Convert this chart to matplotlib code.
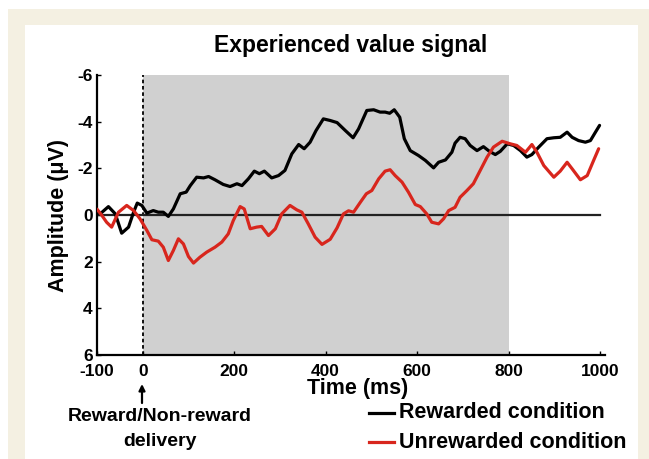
import matplotlib
matplotlib.use("Agg")
import matplotlib.pyplot as plt
from matplotlib.patches import Rectangle
from matplotlib.lines import Line2D

plt.rcParams['font.family'] = ['Liberation Sans', 'DejaVu Sans']
plt.rcParams['font.weight'] = 'bold'
plt.rcParams['axes.unicode_minus'] = False

# ERP traces (time in ms, amplitude in microvolts)
time_rewarded = [-100, -93, -75, -60, -46, -31, -20, -12, -2, 9, 23, 34, 45, 56, 67, 82, 95,
                 104, 118, 133, 144, 158, 176, 191, 206, 217, 231, 244, 255, 266, 282, 297,
                 311, 326, 341, 353, 366, 379, 395, 410, 425, 443, 460, 472, 490, 505, 519,
                 530, 540, 550, 562, 572, 585, 603, 618, 636, 647, 662, 676, 683, 694, 705,
                 716, 731, 745, 758, 771, 782, 797, 811, 826, 840, 851, 866, 884, 899, 913,
                 928, 939, 953, 968, 979, 990, 999]
amp_rewarded = [-0.2, -0.05, -0.36, -0.05, 0.78, 0.52, -0.12, -0.51, -0.41, -0.08, -0.19,
                -0.12, -0.12, 0.06, -0.26, -0.91, -0.98, -1.26, -1.62, -1.59, -1.65, -1.51,
                -1.31, -1.22, -1.34, -1.26, -1.55, -1.88, -1.77, -1.88, -1.59, -1.69, -1.91,
                -2.62, -3.02, -2.84, -3.12, -3.62, -4.12, -4.05, -3.96, -3.62, -3.31, -3.69,
                -4.48, -4.51, -4.41, -4.41, -4.36, -4.51, -4.19, -3.27, -2.76, -2.55, -2.34,
                -2.02, -2.26, -2.36, -2.69, -3.08, -3.33, -3.27, -2.98, -2.76, -2.93, -2.73,
                -2.59, -2.73, -3.05, -2.98, -2.76, -2.48, -2.59, -2.91, -3.27, -3.31, -3.33,
                -3.55, -3.33, -3.19, -3.12, -3.19, -3.55, -3.84]

time_unrewarded = [-100, -90, -79, -68, -53, -35, -20, -6, 9, 20, 34, 45, 56, 67, 78, 89, 100,
                   111, 125, 140, 158, 173, 187, 198, 213, 222, 235, 249, 260, 275, 290, 304,
                   322, 337, 348, 362, 377, 392, 410, 425, 439, 450, 461, 476, 489, 501, 516,
                   530, 541, 552, 567, 581, 596, 607, 621, 632, 647, 658, 669, 683, 694, 709,
                   723, 738, 753, 767, 786, 804, 818, 837, 851, 862, 877, 899, 913, 928, 939,
                   957, 972, 986, 997]
amp_unrewarded = [-0.25, 0.0, 0.31, 0.52, -0.12, -0.41, -0.19, 0.16, 0.66, 1.06, 1.12, 1.38,
                  1.95, 1.52, 1.02, 1.24, 1.78, 2.06, 1.81, 1.59, 1.38, 1.16, 0.81, 0.24, -0.36,
                  -0.26, 0.59, 0.52, 0.49, 0.88, 0.59, -0.05, -0.41, -0.22, -0.12, 0.38, 0.95,
                  1.26, 1.04, 0.55, -0.05, -0.18, -0.12, -0.55, -0.91, -1.05, -1.55, -1.88,
                  -1.94, -1.69, -1.41, -0.98, -0.45, -0.36, -0.05, 0.31, 0.38, 0.16, -0.19,
                  -0.33, -0.76, -1.05, -1.34, -1.91, -2.48, -2.91, -3.16, -3.05, -2.98, -2.69,
                  -3.02, -2.69, -2.12, -1.62, -1.88, -2.26, -1.98, -1.51, -1.69, -2.34, -2.84]

x_ticks = [-100, 0, 200, 400, 600, 800, 1000]
y_ticks = [-6, -4, -2, 0, 2, 4, 6]
analysis_window = (0, 800)
labels = ["Rewarded condition", "Unrewarded condition"]

W, H = 649, 459
fig = plt.figure(figsize=(W / 100, H / 100), dpi=100)
fig.patch.set_facecolor('white')


def fx(px):
    return px / W


def fy(py):
    return 1 - py / H


# page frame
fig.patches.append(Rectangle((fx(8), 0), 1 - fx(8), fy(9), transform=fig.transFigure,
                             facecolor='#f4f0e2', edgecolor='none', zorder=-2))
fig.patches.append(Rectangle((fx(25), 0), fx(638) - fx(25), fy(25), transform=fig.transFigure,
                             facecolor='white', edgecolor='none', zorder=-1))

ax = fig.add_axes([fx(97), fy(355), fx(604.6) - fx(97), fy(75) - fy(355)])
ax.set_facecolor('none')

ax.axvspan(*analysis_window, color='#d0d0d0', lw=0, zorder=0)
ax.axvline(0, color='black', ls=(0, (2, 1.5)), lw=1.3, zorder=1)
ax.plot([x_ticks[0], x_ticks[-1]], [0, 0], color='#222222', lw=1.6, zorder=2)

l1, = ax.plot(time_rewarded, amp_rewarded, color='black', lw=2.3, zorder=3,
              solid_joinstyle='round', solid_capstyle='round')
l2, = ax.plot(time_unrewarded, amp_unrewarded, color='#d8261d', lw=2.3, zorder=3,
              solid_joinstyle='round', solid_capstyle='round')

ax.set_xlim(-100, 1010)
ax.set_ylim(6, -6)
ax.set_xticks(x_ticks)
ax.set_yticks(y_ticks)
ax.set_yticklabels([str(v) for v in y_ticks])
ax.set_xticklabels([str(v) for v in x_ticks])
ax.tick_params(direction='in', length=3, width=1, labelsize=12.5)
ax.tick_params(axis='x', pad=6.5)
ax.tick_params(axis='y', pad=3)
for lab in ax.get_xticklabels() + ax.get_yticklabels():
    lab.set_fontweight('bold')
for s in ['top', 'right']:
    ax.spines[s].set_visible(False)
for s in ['left', 'bottom']:
    ax.spines[s].set_linewidth(1.6)

ax.set_title("Experienced value signal", fontsize=16.5, fontweight='bold', pad=16.5)
ax.set_ylabel("Amplitude (μV)", fontsize=15.5, fontweight='bold', labelpad=6)
ax.set_xlabel("Time (ms)", fontsize=15.5, fontweight='bold')
ax.xaxis.set_label_coords(0.514, -0.082)

# event marker under the zero tick
ax.annotate("", xy=(fx(142), fy(384)), xycoords='figure fraction',
            xytext=(fx(142), fy(403)), textcoords='figure fraction',
            arrowprops=dict(arrowstyle='-|>', color='black', lw=1.6, mutation_scale=9,
                            shrinkA=0, shrinkB=0))
fig.text(fx(160), fy(429), "Reward/Non-reward\ndelivery", ha='center', va='center',
         fontsize=14, fontweight='bold', linespacing=1.55)

# legend
for (line, label, py) in [(l1, labels[0], 413), (l2, labels[1], 442)]:
    fig.lines.append(Line2D([fx(369), fx(394)], [fy(py), fy(py)], transform=fig.transFigure,
                            color=line.get_color(), lw=2.3))
    fig.text(fx(399), fy(py), label, ha='left', va='center', fontsize=15.5, fontweight='bold')

fig.savefig("out.png", dpi=100)
